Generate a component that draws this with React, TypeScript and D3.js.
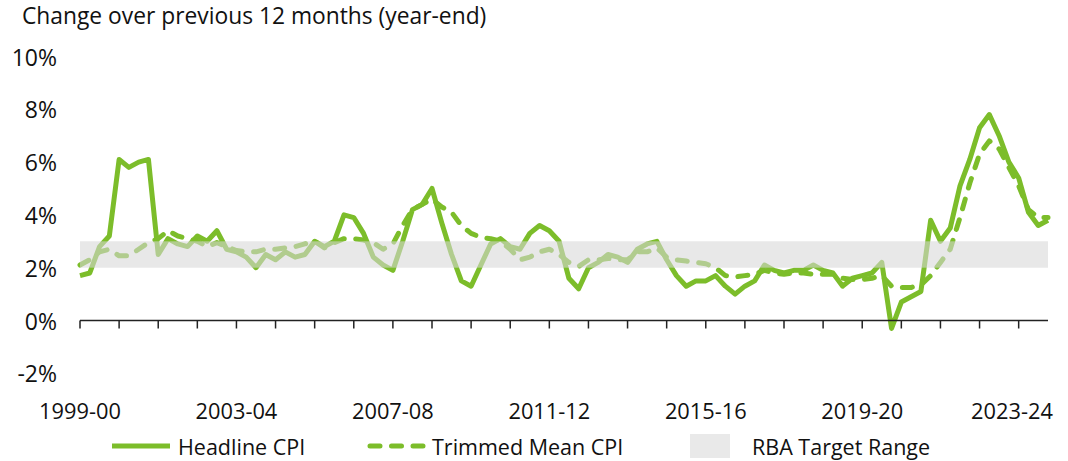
import React from 'react';
import * as d3 from 'd3';

// Year-ended CPI growth, quarterly from Sep 1999 to Jun 2024 (per cent)
const headlineCpi = [
  1.7, 1.8,
  2.8, 3.2, 6.1, 5.8,
  6.0, 6.1, 2.5, 3.1,
  2.9, 2.8, 3.2, 3.0,
  3.4, 2.7, 2.6, 2.4,
  2.0, 2.5, 2.3, 2.6,
  2.4, 2.5, 3.0, 2.8,
  3.0, 4.0, 3.9, 3.3,
  2.4, 2.1, 1.9, 3.0,
  4.2, 4.4, 5.0, 3.7,
  2.5, 1.5, 1.3, 2.1,
  2.9, 3.1, 2.8, 2.7,
  3.3, 3.6, 3.4, 3.0,
  1.6, 1.2, 2.0, 2.2,
  2.5, 2.4, 2.2, 2.7,
  2.9, 3.0, 2.3, 1.7,
  1.3, 1.5, 1.5, 1.7,
  1.3, 1.0, 1.3, 1.5,
  2.1, 1.9, 1.8, 1.9,
  1.9, 2.1, 1.9, 1.8,
  1.3, 1.6, 1.7, 1.8,
  2.2, -0.3, 0.7, 0.9,
  1.1, 3.8, 3.0, 3.5,
  5.1, 6.1, 7.3, 7.8,
  7.0, 6.0, 5.4, 4.1,
  3.6, 3.8,
];

const trimmedMeanCpi = [
  2.1, 2.3,
  2.6, 2.7, 2.45, 2.45,
  2.7, 2.95, 3.1, 3.4,
  3.2, 3.1, 3.0, 2.8,
  2.95, 2.8, 2.65, 2.6,
  2.6, 2.7, 2.7, 2.75,
  2.8, 2.9, 3.0, 2.75,
  2.95, 3.1, 3.1, 3.05,
  2.95, 2.7, 2.9, 3.6,
  4.2, 4.4, 4.6, 4.3,
  4.1, 3.6, 3.3, 3.15,
  3.1, 3.0, 2.7, 2.3,
  2.4, 2.6, 2.7, 2.5,
  2.2, 2.05, 2.3, 2.3,
  2.35, 2.3, 2.3, 2.6,
  2.6, 2.75, 2.4, 2.3,
  2.25, 2.2, 2.15, 2.0,
  1.7, 1.65, 1.7, 1.75,
  1.9, 1.8, 1.75, 1.8,
  1.8, 1.75, 1.75, 1.75,
  1.6, 1.55, 1.55, 1.6,
  1.7, 1.3, 1.25, 1.25,
  1.35, 1.7, 2.2, 2.7,
  3.9, 5.2, 6.3, 6.8,
  6.5, 5.8, 5.1, 4.2,
  3.9, 3.9,
];

// Financial years, one tick each (first quarter of each year = September)
const fiscalYears = [
  '1999-00', '2000-01', '2001-02', '2002-03', '2003-04', '2004-05', '2005-06',
  '2006-07', '2007-08', '2008-09', '2009-10', '2010-11', '2011-12', '2012-13',
  '2013-14', '2014-15', '2015-16', '2016-17', '2017-18', '2018-19', '2019-20',
  '2020-21', '2021-22', '2022-23', '2023-24',
];

const yTicks = [-2, 0, 2, 4, 6, 8, 10];
const targetRange = [2, 3];

const GREEN = '#7cbd2a';
const INK = '#111';
const FONT = '"Open Sans", "DejaVu Sans", sans-serif';
const DASH = '10,11.5';

const App = () => {
  const width = 1068;
  const height = 461;
  const left = 80;
  const right = 1048;

  const x = d3.scaleLinear().domain([0, headlineCpi.length - 1]).range([left, right]);
  const y = d3.scaleLinear().domain([0, 10]).range([320.5, 56.5]);

  const line = d3.line<number>()
    .x((_, i) => x(i))
    .y(d => y(d));

  const yearTick = (k: number) => x(k * 4);

  return (
    <svg
      width={width}
      height={height}
      style={{ position: 'absolute', left: 0, top: 0, background: '#fff' }}
      fontFamily={FONT}
    >
      <text x={22} y={24} fontSize={22.8} fill={INK}>
        Change over previous 12 months (year-end)
      </text>

      {/* y axis labels */}
      {yTicks.map(t => (
        <text key={t} x={57} y={y(t)} fontSize={23} fill={INK}
          textAnchor="end" dominantBaseline="central">
          {`${t}%`}
        </text>
      ))}

      {/* series */}
      <path d={line(trimmedMeanCpi) || ''} fill="none" stroke={GREEN}
        strokeWidth={5} strokeDasharray={DASH} strokeLinecap="round" strokeLinejoin="round" />
      <path d={line(headlineCpi) || ''} fill="none" stroke={GREEN}
        strokeWidth={5} strokeLinejoin="round" />

      {/* target band sits over the lines */}
      <rect x={left} width={right - left} y={y(targetRange[1])}
        height={y(targetRange[0]) - y(targetRange[1])} fill="#d8d8d8" opacity={0.58} />

      {/* x axis */}
      <line x1={left} x2={right} y1={y(0)} y2={y(0)} stroke="#222" strokeWidth={1.5} />
      {fiscalYears.map((fy, k) => (
        <line key={fy} x1={yearTick(k)} x2={yearTick(k)} y1={y(0)} y2={y(0) + 8}
          stroke="#222" strokeWidth={1.5} />
      ))}
      {fiscalYears.map((fy, k) => k % 4 === 0 ? (
        <text key={fy} x={Math.min(yearTick(k), right - 36)} y={410} fontSize={21.8}
          fill={INK} textAnchor="middle" dominantBaseline="central">
          {fy}
        </text>
      ) : null)}

      {/* legend */}
      <g transform="translate(0,446)">
        <line x1={112} x2={170} y1={0} y2={0} stroke={GREEN} strokeWidth={5} />
        <text x={178} y={0} fontSize={21.5} fill={INK} dominantBaseline="central">Headline CPI</text>
        <line x1={370} x2={424} y1={0} y2={0} stroke={GREEN} strokeWidth={5}
          strokeDasharray={DASH} strokeLinecap="round" />
        <text x={432} y={0} fontSize={21.5} fill={INK} dominantBaseline="central">Trimmed Mean CPI</text>
        <rect x={690} y={-12} width={40} height={24} fill="#e9e9e9" />
        <text x={752} y={0} fontSize={21.5} fill={INK} dominantBaseline="central">RBA Target Range</text>
      </g>
    </svg>
  );
};

export default App;
